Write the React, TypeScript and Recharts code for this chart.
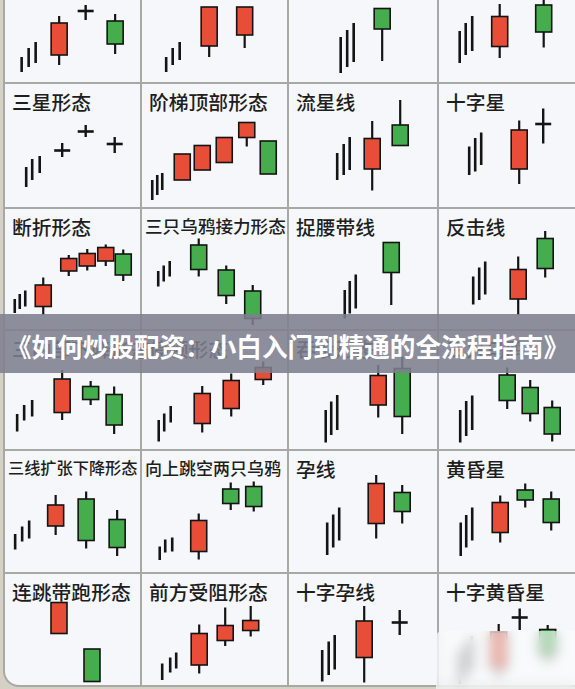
import React from 'react';
import { BarChart, Bar, XAxis, YAxis } from 'recharts';

type Candle = { t: number; o: number; h: number; l: number; c: number; k?: 'line' | 'doji' };

const ln = (t: number, l: number, h: number): Candle => ({ t, o: l, h, l, c: l, k: 'line' });
const dj = (t: number, p: number, l: number, h: number): Candle => ({ t, o: p, h, l, c: p, k: 'doji' });
const cd = (t: number, o: number, h: number, l: number, c: number): Candle => ({ t, o, h, l, c });

// top row (titles cut off)
const topA = [ln(18, 11, 26), ln(25, 16, 35), ln(32, 20, 41), cd(55.5, 28, 67, 18, 60), dj(82, 72, 63, 78), cd(111.5, 62, 69, 29, 39)];
const topB = [ln(25.5, 11, 26), ln(32, 18, 35), ln(39, 23, 41), cd(68.5, 37, 76, 26, 76), cd(104, 48, 76, 35, 76)];
const topC = [ln(53, 10, 46), ln(59.5, 16, 53), ln(66, 21, 60), cd(94.5, 74.5, 74.5, 22, 54)];
const topD = [ln(22, 20, 52), ln(28, 28, 60), ln(34.5, 32, 67), cd(62, 36.5, 79, 25, 66.5), cd(106, 78, 90, 35.5, 51)];

const threeStars = [ln(22.5, 21, 41), ln(28.5, 28, 49), ln(36, 35, 52), dj(58.5, 57.5, 51, 65), dj(82, 76.5, 71, 83), dj(111, 64, 55, 71)];
const ladderTop = [ln(11.5, 8, 28), ln(16.5, 13, 33), ln(21.5, 18, 35), cd(41.5, 28, 54, 28, 54), cd(61.5, 38, 62.5, 38, 62.5), cd(83.5, 45.5, 70.5, 45.5, 70.5), cd(106, 70.5, 85.5, 61.5, 85.5), cd(127.5, 67, 67, 34, 34)];
const shootingStar = [ln(49.5, 28, 55), ln(56, 33, 64), ln(62, 38, 71), cd(84.5, 39, 87, 17.5, 69.5), cd(112.5, 83, 108, 62.5, 62.5)];
const dojiStar = [ln(31.5, 33, 61.5), ln(37.5, 36.5, 70), ln(43.5, 43, 75.5), cd(81.5, 39, 87.5, 24, 78), dj(105.5, 84, 64.5, 99.5)];

const breakaway = [ln(11, 17, 31), ln(16, 21, 36), ln(21.5, 23.5, 39.5), cd(39.5, 23.5, 52.5, 15, 45), cd(65, 59, 75, 54, 71.5), cd(83.5, 64, 81, 59.5, 76.5), cd(102, 69, 85.5, 64, 82.5), cd(119.5, 76, 80.5, 49, 55)];
const crowsRelay = [ln(17.5, 43.5, 59), ln(23, 48.5, 64.5), ln(29, 53.5, 69), cd(58, 85, 91.5, 53.5, 60.5), cd(85.5, 60, 64.5, 26, 34.5), cd(112, 39, 45, 5, 11.5)];
const beltHold = [ln(57, 11.5, 40), ln(62, 16.5, 49), ln(68, 21.5, 55.5), cd(103.5, 87.5, 87.5, 25, 57.5)];
const counterattack = [ln(35.5, 25.5, 53.5), ln(41.5, 30, 62.5), ln(47.5, 35.5, 68.5), cd(80.5, 31, 73.5, 15, 60.5), cd(107.5, 91.5, 99, 52.5, 61.5)];

const insideDown = [ln(13.5, 18.5, 36), ln(20.5, 29.5, 45), ln(28.5, 33.5, 50), cd(58.5, 37.5, 80, 30, 71), cd(87, 63.5, 69, 45, 50.5), cd(110.5, 55.5, 63.5, 16, 25)];
const stalled = [ln(18, 8.5, 30), ln(23.5, 18.5, 36.5), ln(30, 27.5, 44), cd(61.5, 26.5, 64, 17.5, 56.5), cd(90.5, 41.5, 76.5, 33.5, 69.5), cd(122.5, 70.5, 88.5, 65, 82.5)];
const engulfing = [ln(38, 7.5, 40), ln(43.5, 15, 48.5), ln(49.5, 20, 55), cd(90.5, 45, 85, 32.5, 74.5), cd(114.5, 81.5, 93.5, 16, 33.5)];
const threeCrows = [ln(22.5, 7.5, 40), ln(28.5, 14, 49), ln(34.5, 20, 54.5), cd(69.5, 75, 82.5, 41, 49.5), cd(92.5, 62.5, 70, 28.5, 36.5), cd(114.5, 42.5, 49.5, 8.5, 16)];

const threeLineDown = [ln(11.5, 23.5, 39), ln(18.5, 31.5, 46.5), ln(25.5, 34.5, 52.5), cd(52, 47, 78, 38, 68), cd(82.5, 74, 81.5, 24.5, 32.5), cd(113.5, 53.5, 63, 17, 25.5)];
const upsideGapCrows = [ln(19, 13, 26.5), ln(24.5, 20.5, 33.5), ln(31.5, 21.5, 35.5), cd(58, 21.5, 59.5, 13.5, 52.5), cd(90, 84, 90.5, 63, 69.5), cd(113, 86.5, 91.5, 61.5, 66.5)];
const harami = [ln(39.5, 18, 50.5), ln(45.5, 25.5, 58.5), ln(51.5, 32.5, 65.5), cd(88.5, 49.5, 98, 34.5, 89.5), cd(114.5, 80.5, 88, 49.5, 61.5)];
const eveningStar = [ln(23, 17, 50.5), ln(28.5, 25.5, 58), ln(34.5, 32.5, 65.5), cd(62.5, 40.5, 77.5, 30.5, 70.5), cd(87.5, 83, 89.5, 65.5, 73), cd(113.5, 74, 81.5, 42.5, 50.5)];

const gapRun = [cd(54.5, 55.5, 86.5, 55.5, 86.5), cd(87.5, 40, 40, 7.5, 7.5)];
const advanceBlock = [ln(21.5, 9, 25.5), ln(29.5, 16.5, 31.5), ln(35.5, 20.5, 36.5), cd(58.5, 24, 64.5, 15.5, 55.5), cd(84.5, 48.5, 81.5, 43, 63.5), cd(110, 58.5, 83, 52.5, 68.5)];
const haramiCross = [ln(34.5, 7.5, 39), ln(41, 14, 47.5), ln(47, 19.5, 54), cd(76.5, 31.5, 83, 6.5, 68), dj(112, 66.5, 54, 79)];
const eveningDojiStar = [ln(22, 5, 38), ln(28, 12, 46), ln(34, 18, 53), cd(61, 21, 65, 10, 57), dj(82, 71.5, 59, 80.5), cd(110, 59.5, 64, 25, 34)];

const titles = [
  ['', '', '', ''],
  ['三星形态', '阶梯顶部形态', '流星线', '十字星'],
  ['断折形态', '三只乌鸦接力形态', '捉腰带线', '反击线'],
  ['三内部下降形态', '停顿形态', '吞没形态', '三只乌鸦'],
  ['三线扩张下降形态', '向上跳空两只乌鸦', '孕线', '黄昏星'],
  ['连跳带跑形态', '前方受阻形态', '十字孕线', '十字黄昏星'],
];

const panels = [
  [topA, topB, topC, topD],
  [threeStars, ladderTop, shootingStar, dojiStar],
  [breakaway, crowsRelay, beltHold, counterattack],
  [insideDown, stalled, engulfing, threeCrows],
  [threeLineDown, upsideGapCrows, harami, eveningStar],
  [gapRun, advanceBlock, haramiCross, eveningDojiStar],
];

const bannerText = '《如何炒股配资：小白入门到精通的全流程指南》';

const COLS = [4, 141, 288, 438, 575];
const ROWS = [-42, 83, 208, 330, 450, 573, 689];
const RED = '#e84d38';
const GREEN = '#46ad4e';
const INK = '#141414';
const GRID = '#a8a9a5';
const FONT = '"Noto Sans CJK SC", "Noto Sans", sans-serif';

const CandleShape = (props: any) => {
  const { x, y, width, height, payload } = props;
  if (!payload || x == null || y == null) return null;
  const { o, h, l, c, k } = payload as Candle;
  const yTop = Math.min(y, y + height);
  const span = Math.abs(height);
  const py = (v: number) => yTop + (h === l ? 0 : ((h - v) / (h - l)) * span);
  const cx = x + width / 2;
  if (k === 'line') {
    return <line x1={cx} x2={cx} y1={yTop} y2={yTop + span} stroke={INK} strokeWidth={2.6} />;
  }
  if (k === 'doji') {
    return (
      <g>
        <line x1={cx} x2={cx} y1={yTop} y2={yTop + span} stroke={INK} strokeWidth={2.4} />
        <line x1={cx - 8} x2={cx + 8} y1={py(o)} y2={py(o)} stroke={INK} strokeWidth={2.6} />
      </g>
    );
  }
  const top = py(Math.max(o, c));
  const bot = py(Math.min(o, c));
  return (
    <g>
      <line x1={cx} x2={cx} y1={yTop} y2={yTop + span} stroke={INK} strokeWidth={2.2} />
      <rect x={cx - 8} y={top} width={16} height={Math.max(bot - top, 1)} fill={c > o ? RED : GREEN} stroke={INK} strokeWidth={1.6} />
    </g>
  );
};

const Panel = ({ data, w, h }: { data: Candle[]; w: number; h: number }) => {
  const rows = data.map((d) => ({ ...d, range: [d.l, d.h] }));
  return (
    <BarChart width={w} height={h} data={rows} margin={{ top: 0, right: 0, bottom: 0, left: 0 }}>
      <XAxis type="number" dataKey="t" domain={[0, w]} hide allowDataOverflow />
      <YAxis type="number" domain={[0, h]} hide allowDataOverflow />
      <Bar dataKey="range" barSize={16} shape={<CandleShape />} isAnimationActive={false} />
    </BarChart>
  );
};

export default function App() {
  const cells: React.ReactNode[] = [];
  for (let r = 0; r < panels.length; r++) {
    for (let col = 0; col < 4; col++) {
      const left = COLS[col];
      const top = ROWS[r];
      const w = COLS[col + 1] - left;
      const h = ROWS[r + 1] - top;
      const title = titles[r][col];
      const long = title.length > 7;
      const fs = long ? (title === '三线扩张下降形态' ? 16.2 : title === '向上跳空两只乌鸦' ? 17 : 17.6) : 19.8;
      cells.push(
        <div key={`${r}-${col}`} style={{ position: 'absolute', left, top, width: w, height: h }}>
          <div style={{ position: 'absolute', left: 0, top: 0 }}>
            <Panel data={panels[r][col]} w={w} h={h} />
          </div>
          {title && (
            <div
              style={{
                position: 'absolute',
                left: long ? 4 : 8,
                top: 9,
                fontSize: fs,
                lineHeight: `${fs}px`,
                fontFamily: FONT,
                fontWeight: 500,
                color: '#1e1e1e',
                whiteSpace: 'nowrap',
              }}
            >
              {title}
            </div>
          )}
        </div>
      );
    }
  }

  return (
    <div style={{ position: 'absolute', left: 0, top: 0, width: 575, height: 689, overflow: 'hidden', background: '#d5d2c5' }}>
      <div
        style={{
          position: 'absolute',
          left: 3,
          top: -20,
          width: 600,
          height: 707,
          background: '#f5f7fa',
          borderLeft: `2px solid ${GRID}`,
          borderBottom: `2px solid ${GRID}`,
          borderBottomLeftRadius: 16,
          boxSizing: 'border-box',
        }}
      />
      {COLS.slice(1, 4).map((x) => (
        <div key={`v${x}`} style={{ position: 'absolute', left: x - 1, top: 0, width: 2, height: 687, background: GRID }} />
      ))}
      {ROWS.slice(1, 6).map((y) => (
        <div key={`h${y}`} style={{ position: 'absolute', left: 4, top: y - 1, width: 575, height: 2, background: GRID }} />
      ))}
      {cells}
      <div
        style={{
          position: 'absolute',
          left: 0,
          top: 314,
          width: 575,
          height: 59,
          background: 'rgba(126,128,142,0.88)',
        }}
      />
      <div
        style={{
          position: 'absolute',
          left: 0,
          top: 332,
          width: 575,
          textAlign: 'center',
          fontSize: 25.6,
          lineHeight: '27px',
          fontWeight: 700,
          color: '#ffffff',
          fontFamily: FONT,
          whiteSpace: 'nowrap',
        }}
      >
        {bannerText}
      </div>
      <div
        style={{
          position: 'absolute',
          left: 436,
          top: 631,
          width: 150,
          height: 70,
          borderRadius: 6,
          background: 'rgba(250,251,252,0.6)',
          backdropFilter: 'blur(6px)',
          WebkitBackdropFilter: 'blur(6px)',
        }}
      />
    </div>
  );
}
